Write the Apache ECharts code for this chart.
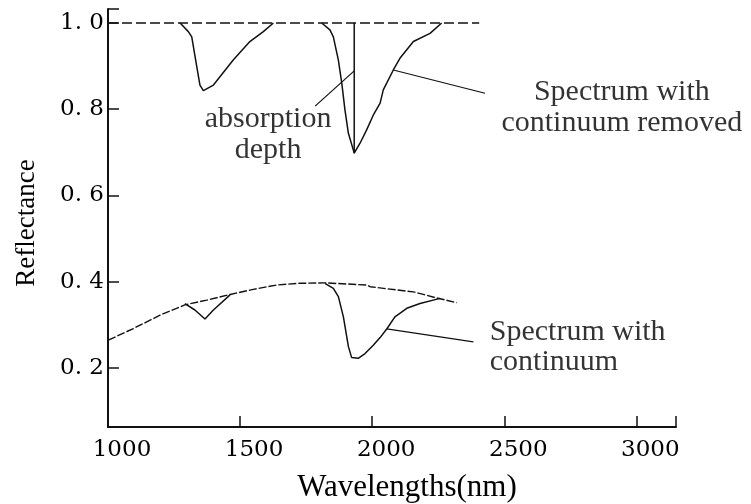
<!DOCTYPE html>
<html>
<head>
<meta charset="utf-8">
<script src="https://cdn.jsdelivr.net/npm/echarts@6/dist/echarts.min.js"></script>
<style>html,body{margin:0;padding:0;background:#fff}#c{width:751px;height:504px}</style>
</head>
<body>
<div id="c"></div>
<script>
// ---- data (wavelength nm, reflectance) ----
const xTickLabels = [1000, 1500, 2000, 2500, 3000];
const xTickMarks = [1500, 2000, 2500, 3000, 3150];
const yTickLabels = [0.2, 0.4, 0.6, 0.8, 1.0];
const yTickMarks = [0.2, 0.4, 0.6, 0.8, 1.0, 1.0325];

const removedContinuum = [[1000, 1.0], [2405, 1.0]];
const removedDip1 = [[1273,1.0],[1304,0.980],[1317,0.968],[1336,0.899],[1348,0.856],[1361,0.843],[1399,0.856],[1474,0.914],[1537,0.957],[1588,0.980],[1626,1.0]];
const removedDip2 = [[1809,1.0],[1840,0.984],[1853,0.968],[1872,0.914],[1885,0.860],[1897,0.798],[1910,0.744],[1932,0.698],[1954,0.721],[1979,0.752],[2004,0.786],[2030,0.814],[2042,0.845],[2080,0.891],[2105,0.918],[2156,0.957],[2219,0.976],[2263,1.0]];
const depthLine = [[1932, 1.0], [1932, 0.698]];

const continuum = [[1001,0.264],[1096,0.291],[1197,0.322],[1291,0.346],[1374,0.357],[1462,0.370],[1550,0.382],[1639,0.392],[1727,0.396],[1821,0.397],[1979,0.392],[1992,0.388],[2156,0.376],[2244,0.362],[2320,0.351]];
const spectrumDip1 = [[1291,0.349],[1329,0.334],[1367,0.313],[1399,0.334],[1462,0.369]];
const spectrumDip2 = [[1821,0.396],[1853,0.384],[1872,0.365],[1891,0.318],[1910,0.249],[1922,0.224],[1947,0.222],[1973,0.233],[2004,0.252],[2030,0.270],[2055,0.290],[2086,0.318],[2131,0.338],[2181,0.349],[2257,0.361]];

const leaderDepth = [[1784,0.807],[1932,0.889]];
const leaderRemoved = [[2080,0.891],[2427,0.837]];
const leaderContinuum = [[2055,0.290],[2383,0.260]];

const annotCenter = [
  {value: [1606, 0.742], text: 'absorption\ndepth'},
  {value: [2945, 0.803], text: 'Spectrum with\ncontinuum removed'}
];
const annotLeft = [
  {value: [2445, 0.247], text: 'Spectrum with\ncontinuum'}
];

const INK = '#111';
const TXT = '#000';
function lineSeries(data, opts) {
  return Object.assign({
    type: 'line', data: data, showSymbol: false, symbol: 'none', smooth: false,
    lineStyle: {color: INK, width: 1.5}, silent: true, z: 3
  }, opts || {});
}
const textFont = 'Liberation Serif';
const numFont = 'DejaVu Serif';

const chart = echarts.init(document.getElementById('c'), null, {renderer: 'canvas'});
chart.setOption({
  animation: false,
  backgroundColor: '#fff',
  grid: {left: 108, right: 75, top: 9, bottom: 77, containLabel: false, outerBoundsMode: 'none'},
  xAxis: {
    type: 'value', min: 1000, max: 3150,
    name: 'Wavelengths(nm)', nameLocation: 'middle', nameGap: 45,
    nameTextStyle: {fontFamily: textFont, fontSize: 31, color: TXT, padding: [0, 0, 0, 30]},
    axisLine: {show: true, onZero: false, lineStyle: {color: INK, width: 2}},
    axisTick: {show: true, inside: true, length: 11, customValues: xTickMarks, lineStyle: {color: INK, width: 1.5}},
    axisLabel: {customValues: xTickLabels, fontFamily: numFont, fontSize: 23, color: TXT, margin: 12,
      padding: [0, 0, 0, 28], formatter: v => String(v)},
    splitLine: {show: false}
  },
  yAxis: {
    type: 'value', min: 0.0625, max: 1.0325,
    name: 'Reflectance', nameLocation: 'middle', nameGap: 68, nameRotate: 90,
    nameTextStyle: {fontFamily: textFont, fontSize: 27, color: TXT, padding: [0, 10, 0, 0]},
    axisLine: {show: true, onZero: false, lineStyle: {color: INK, width: 2}},
    axisTick: {show: true, inside: true, length: 11, customValues: yTickMarks, lineStyle: {color: INK, width: 1.5}},
    axisLabel: {customValues: yTickLabels, fontFamily: numFont, fontSize: 23, color: TXT, margin: 4,
      formatter: v => v.toFixed(1).replace('.', '. ')},
    splitLine: {show: false}
  },
  series: [
    lineSeries(removedContinuum, {lineStyle: {color: INK, width: 1.5, type: [10, 4]}}),
    lineSeries(removedDip1),
    lineSeries(removedDip2),
    lineSeries(depthLine),
    lineSeries(continuum, {lineStyle: {color: INK, width: 1.4, type: [8, 2]}}),
    lineSeries(spectrumDip1),
    lineSeries(spectrumDip2),
    lineSeries(leaderDepth, {lineStyle: {color: INK, width: 1.2}}),
    lineSeries(leaderRemoved, {lineStyle: {color: INK, width: 1.2}}),
    lineSeries(leaderContinuum, {lineStyle: {color: INK, width: 1.2}}),
    {
      type: 'scatter', symbolSize: 0, silent: true, z: 5,
      data: annotCenter,
      label: {show: true, position: 'inside', formatter: p => p.data.text,
        fontFamily: textFont, fontSize: 30, lineHeight: 31, color: TXT, align: 'center', verticalAlign: 'middle'}
    },
    {
      type: 'scatter', symbolSize: 0, silent: true, z: 5,
      data: annotLeft,
      label: {show: true, position: 'right', distance: 0, formatter: p => p.data.text,
        fontFamily: textFont, fontSize: 30, lineHeight: 30, color: TXT, align: 'left', verticalAlign: 'middle'}
    }
  ]
});
</script>
</body>
</html>
